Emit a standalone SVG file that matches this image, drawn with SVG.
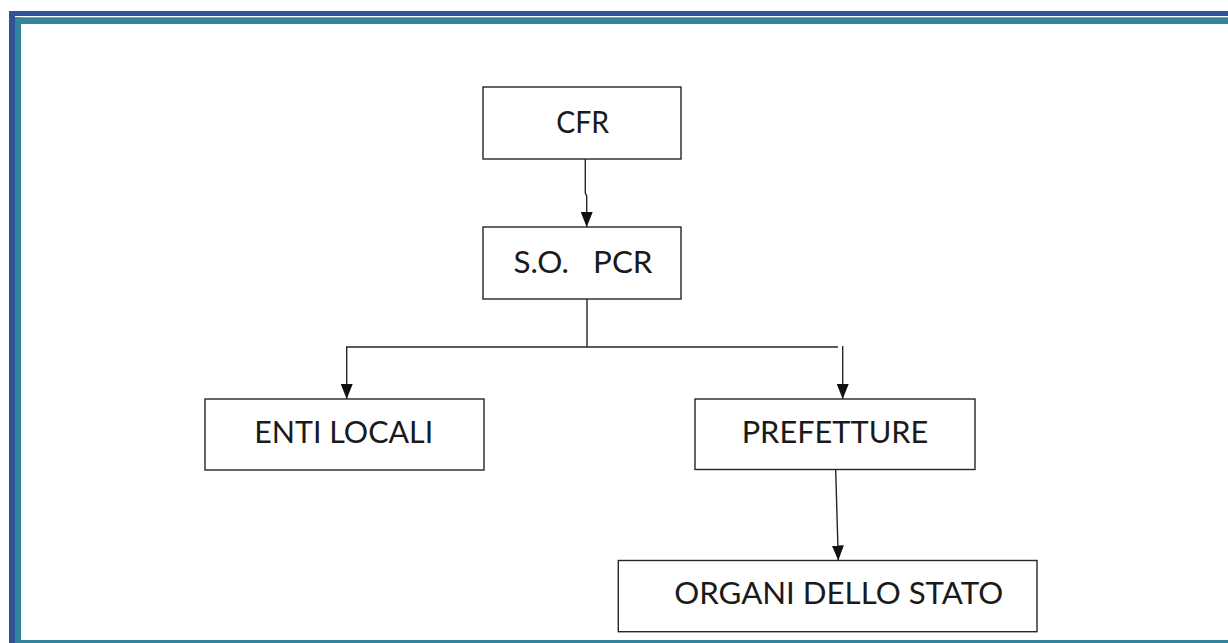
<svg xmlns="http://www.w3.org/2000/svg" width="1228" height="643" viewBox="0 0 1228 643">
<style>
.box{fill:#fff;stroke:#262626;stroke-width:1.4}
.lbl{font-family:Lato,"Open Sans","Liberation Sans",sans-serif;font-size:31.5px;fill:#1a1a1a;text-anchor:middle;white-space:pre}
.con{fill:none;stroke:#262626;stroke-width:1.4}
</style>
<defs>
<marker id="arr" viewBox="0 0 15 12" refX="15" refY="6" markerWidth="15" markerHeight="12" markerUnits="userSpaceOnUse" orient="auto">
<path d="M0,0 L15,6 L0,12 Z" fill="#111"/>
</marker>
</defs>
<rect width="1228" height="643" fill="#fff"/>
<g id="frame">
<rect x="9" y="11" width="1219" height="5" fill="#2F5496"/>
<rect x="9" y="11" width="6" height="632" fill="#2F5496"/>
<rect x="15" y="17.3" width="1213" height="6.7" fill="#31849B"/>
<rect x="15" y="17.3" width="6" height="626" fill="#31849B"/>
<rect x="15" y="640" width="1213" height="3" fill="#31849B"/>
</g>
<g id="connectors">
<path class="con" d="M585.3,159 L585.3,193 L586.7,196 L586.7,227" marker-end="url(#arr)"/>
<path class="con" d="M587,299 L587,347"/>
<path class="con" d="M838,347 L346.7,347 L346.7,399" marker-end="url(#arr)"/>
<path class="con" d="M842.7,346 L842.7,399" marker-end="url(#arr)"/>
<path class="con" d="M835.7,470 L838.3,560.5" marker-end="url(#arr)"/>
</g>
<g id="cfr">
<rect class="box" x="483" y="87" width="198" height="72"/>
<text class="lbl" x="582.7" y="133.3" textLength="53" lengthAdjust="spacingAndGlyphs">CFR</text>
</g>
<g id="sopcr">
<rect class="box" x="483" y="227" width="198" height="72"/>
<text class="lbl" x="583" y="272.7" textLength="139" lengthAdjust="spacingAndGlyphs">S.O.   PCR</text>
</g>
<g id="enti-locali">
<rect class="box" x="205" y="399" width="279" height="71"/>
<text class="lbl" x="343.7" y="443.3" textLength="179" lengthAdjust="spacingAndGlyphs">ENTI LOCALI</text>
</g>
<g id="prefetture">
<rect class="box" x="695" y="399" width="280" height="70.5"/>
<text class="lbl" x="835" y="443.3" textLength="186.7" lengthAdjust="spacingAndGlyphs">PREFETTURE</text>
</g>
<g id="organi-dello-stato">
<rect class="box" x="618.3" y="560.5" width="418.7" height="71.2"/>
<text class="lbl" x="838.7" y="604" textLength="329" lengthAdjust="spacingAndGlyphs">ORGANI DELLO STATO</text>
</g>
</svg>
